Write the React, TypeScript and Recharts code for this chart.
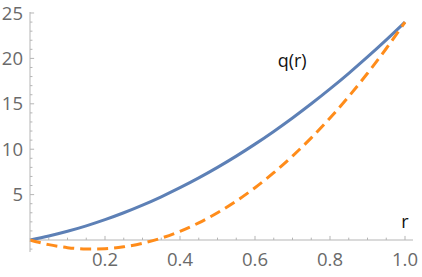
import React from "react";
import { LineChart, Line, XAxis, YAxis, ReferenceLine, ReferenceDot } from "recharts";

const rValues = [0, 0.05, 0.1, 0.15, 0.2, 0.25, 0.3, 0.35, 0.4, 0.45, 0.5, 0.55, 0.6, 0.65, 0.7, 0.75, 0.8, 0.85, 0.9, 0.95, 1.0];
const qValues = [0, 0.44, 0.96, 1.56, 2.24, 3.0, 3.84, 4.76, 5.76, 6.84, 8.0, 9.24, 10.56, 11.96, 13.44, 15.0, 16.64, 18.36, 20.16, 22.04, 24.0];
const dashedValues = [0, -0.51, -0.84, -0.99, -0.96, -0.75, -0.36, 0.21, 0.96, 1.89, 3.0, 4.29, 5.76, 7.41, 9.24, 11.25, 13.44, 15.81, 18.36, 21.09, 24.0];

const xTicks = [0.2, 0.4, 0.6, 0.8, 1.0];
const xMinorTicks = [0.05, 0.1, 0.15, 0.25, 0.3, 0.35, 0.45, 0.5, 0.55, 0.65, 0.7, 0.75, 0.85, 0.9, 0.95];
const yTicks = [5, 10, 15, 20, 25];
const yMinorTicks = [-1, 1, 2, 3, 4, 6, 7, 8, 9, 11, 12, 13, 14, 16, 17, 18, 19, 21, 22, 23, 24];

const data = rValues.map((r, i) => ({ r, q: qValues[i], d: dashedValues[i] }));

const AXIS = "#b5b5b5";
const FONT = "'Open Sans', 'Liberation Sans', sans-serif";

export default function App() {
  return (
    <div style={{ position: "absolute", left: 0, top: 0, width: 422, height: 277, background: "#fff" }}>
      <LineChart width={422} height={277} data={data} margin={{ top: 12, right: 9, left: 0, bottom: 0 }}>
        <XAxis
          dataKey="r"
          type="number"
          domain={[0, 1.0213]}
          ticks={xTicks}
          tickFormatter={(v: number) => v.toFixed(1)}
          axisLine={false}
          tickLine={false}
          tickSize={0}
          tickMargin={1}
          height={25}
          tick={{ fill: "#6a6a6a", fontSize: 18.5, fontFamily: FONT }}
          interval={0}
        />
        <YAxis
          type="number"
          domain={[-1.32, 25.11]}
          ticks={yTicks}
          width={30}
          axisLine={{ stroke: AXIS, strokeWidth: 1 }}
          tickLine={false}
          tickSize={0}
          tickMargin={7}
          tick={{ fill: "#6a6a6a", fontSize: 18.5, fontFamily: FONT }}
          interval={0}
        />
        <ReferenceLine y={0} stroke={AXIS} strokeWidth={1} ifOverflow="extendDomain" />
        {xTicks.map((t) => (
          <ReferenceLine key={"xM" + t} segment={[{ x: t, y: 0 }, { x: t, y: 0.45 }]} stroke={AXIS} />
        ))}
        {xMinorTicks.map((t) => (
          <ReferenceLine key={"xm" + t} segment={[{ x: t, y: 0 }, { x: t, y: 0.26 }]} stroke={AXIS} />
        ))}
        {yTicks.map((t) => (
          <ReferenceLine key={"yM" + t} segment={[{ x: 0, y: t }, { x: 0.011, y: t }]} stroke={AXIS} />
        ))}
        {yMinorTicks.map((t) => (
          <ReferenceLine key={"ym" + t} segment={[{ x: 0, y: t }, { x: 0.0065, y: t }]} stroke={AXIS} />
        ))}
        <Line
          type="monotone"
          dataKey="q"
          stroke="#5D80B6"
          strokeWidth={3}
          dot={false}
          isAnimationActive={false}
        />
        <Line
          type="monotone"
          dataKey="d"
          stroke="#FF8C1A"
          strokeWidth={3}
          strokeDasharray="11 6"
          dot={false}
          isAnimationActive={false}
        />
        <ReferenceDot
          x={0.699}
          y={19.8}
          r={0}
          fill="none"
          stroke="none"
          label={{ value: "q(r)", position: "center", fill: "#111", fontSize: 18, fontFamily: FONT }}
        />
        <ReferenceDot
          x={1.0}
          y={2.0}
          r={0}
          fill="none"
          stroke="none"
          label={{ value: "r", position: "center", fill: "#111", fontSize: 18, fontFamily: FONT }}
        />
      </LineChart>
    </div>
  );
}
